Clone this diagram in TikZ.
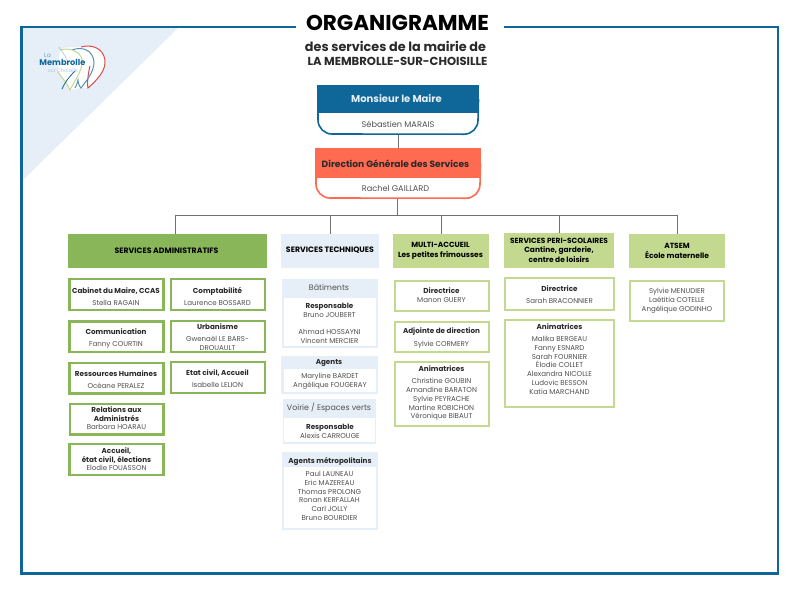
\documentclass[tikz,border=0pt]{standalone}
\usepackage{fontspec}
\setmainfont{Poppins}
\definecolor{bleu}{HTML}{0F6698}
\definecolor{pale}{HTML}{E6EFF7}
\definecolor{corail}{HTML}{FF6B50}
\definecolor{vertf}{HTML}{8AB65A}
\definecolor{vertc}{HTML}{C3D98F}
\definecolor{encre}{HTML}{2A2A2A}
\definecolor{gris}{HTML}{505050}
\definecolor{trait}{HTML}{707070}
\tikzset{
  x=1pt,y=-1pt,
  gbox/.style={draw=vertf,line width=2.4pt,fill=white,inner sep=0pt},
  cbox/.style={draw=vertc,line width=2.4pt,fill=white,inner sep=0pt},
  ibox/.style={fill=white,draw=none,inner sep=0pt},
  pbox/.style={fill=pale,draw=none,inner sep=0pt},
  hdg/.style={fill=vertf,draw=none,inner sep=0pt},
  hdc/.style={fill=vertc,draw=none,inner sep=0pt},
  hdp/.style={fill=pale,draw=none,inner sep=0pt},
  txt/.style={align=center,inner sep=0pt,text=gris,font=\fontsize{7.05}{8.8}\selectfont},
  hd/.style={align=center,inner sep=0pt,text=black,font=\fontsize{7.8}{10}\selectfont\bfseries},
  link/.style={draw=trait,line width=1pt},
}
\newcommand{\bt}[1]{{\fontsize{7.2}{8.8}\selectfont\bfseries\color{encre}#1}}
% \rbox[style]{name}{x1}{y1}{x2}{y2}
\newcommand{\rbox}[6][gbox]{\node[#1,minimum width={#5-#3},minimum height={#6-#4}] (#2) at ({(#3+#5)/2},{(#4+#6)/2}) {};}
% \tnode{name}{x}{y}{text}
\newcommand{\tnode}[4]{\node[txt] (#1) at (#2,#3) {#4};}
\newcommand{\hnode}[4]{\node[hd] (#1) at (#2,#3) {#4};}
\begin{document}
\begin{tikzpicture}
\useasboundingbox (0,0) rectangle (800,600);
\fill[white] (0,0) rectangle (800,600);
% corner and frame
\fill[pale] (22,27) -- (179,27) -- (22,181) -- cycle;
\draw[bleu,line width=2.8pt] (296,27) -- (21.5,27) -- (21.5,573.5) -- (778,573.5) -- (778,27) -- (504,27);
% logo
\fill[white] (60,49) .. controls (70,46) and (75,48) .. (82,47) .. controls (92,44) and (103,48) .. (105,60) .. controls (106,71) and (97,80) .. (88,88) -- (80,88) -- (70,90) .. controls (68,84) and (62,78) .. (58,72) -- cycle;
\begin{scope}[line width=1pt]
\draw[red!65!white!85!black] (81,47) .. controls (92,44) and (103,48) .. (105,60) .. controls (106,71) and (97,80) .. (88,88) .. controls (87,84) and (88,74) .. (90,66);
\draw[bleu!70!white] (72,50) .. controls (82,46) and (93,50) .. (94,62) .. controls (94,72) and (87,80) .. (81,88) .. controls (79,86) and (78,82) .. (78,80) .. controls (77,84) and (76,87) .. (75,88);
\draw[vertc] (60,50) .. controls (70,47) and (81,52) .. (82,60) .. controls (83,70) and (75,80) .. (70,90) .. controls (68,84) and (62,78) .. (58,72);
\draw[bleu,line width=.8pt] (62,89) .. controls (65,82) and (69,77) .. (75,71);
\draw[bleu!50!white,line width=.4pt] (59,47) .. controls (62,52) and (65,55) .. (67,60);
\end{scope}
\node[inner sep=0pt,text=bleu,font=\fontsize{8.3}{8}\selectfont\bfseries] (logotitre) at (62.5,62.5) {Membrolle};
\node[inner sep=0pt,text=bleu!60!white,font=\fontsize{6}{6}\selectfont] (logola) at (47.5,55.5) {La};
\node[inner sep=0pt,text=bleu!35!white,font=\fontsize{5}{5}\selectfont] (logosur) at (63,71) {sur Choisille};
% title
\node[inner sep=0pt,text=black,font=\fontsize{21.5}{22}\selectfont\bfseries] (titre) at (397.5,22.5) {ORGANIGRAMME};
\node[inner sep=0pt,text=encre,font=\fontsize{12.8}{14}\selectfont\bfseries] (st1) at (395.5,46) {des services de la mairie de};
\node[inner sep=0pt,text=encre,font=\fontsize{11.6}{14}\selectfont\bfseries] (st2) at (397.5,61) {LA MEMBROLLE-SUR-CHOISILLE};
% maire
\draw[bleu,line width=1.6pt,fill=white] (318,100) -- (318,120) arc[start angle=180,end angle=90,radius=14] -- (464,134.2) arc[start angle=90,end angle=0,radius=14] -- (478.5,100) -- cycle;
\node[fill=bleu,inner sep=0pt,minimum width=162,minimum height=28] (maire) at (398,99) {};
\node[inner sep=0pt,text=pale,font=\fontsize{10}{12}\selectfont\bfseries] (mairet) at (396.5,99) {Monsieur le Maire};
\node[txt,font=\fontsize{8.2}{10}\selectfont] (mairen) at (398,124) {Sébastien MARAIS};
\coordinate (maireb) at (398,135);
% dgs
\draw[corail,line width=1.6pt,fill=white] (316,165) -- (316,184) arc[start angle=180,end angle=90,radius=14] -- (466,198.2) arc[start angle=90,end angle=0,radius=14] -- (480.5,165) -- cycle;
\node[fill=corail,inner sep=0pt,minimum width=166,minimum height=30] (dgs) at (398,163) {};
\node[inner sep=0pt,text=encre,font=\fontsize{9.1}{11}\selectfont\bfseries] (dgst) at (395.5,164) {Direction Générale des Services};
\node[txt,font=\fontsize{8.2}{10}\selectfont] (dgsn) at (395.5,188.5) {Rachel GAILLARD};
\coordinate (dgsb) at (397.5,199);
\coordinate (hub) at (397.5,215.5);
% service headers
\rbox[hdg]{sadm}{68}{234}{267}{268}
\hnode{sadmt}{166.5}{250.5}{SERVICES ADMINISTRATIFS}
\rbox[hdp]{stec}{281}{234}{379}{268}
\hnode{stect}{330}{250.5}{SERVICES TECHNIQUES}
\rbox[hdc]{smul}{393}{234}{489}{268}
\node[hd,font=\fontsize{7.45}{10}\selectfont\bfseries] (smult) at (440.5,251) {MULTI-ACCUEIL\\Les petites frimousses};
\rbox[hdc]{sper}{504}{233}{614}{268}
\node[hd,font=\fontsize{7.45}{9.5}\selectfont\bfseries] (spert) at (559,250) {SERVICES PERI-SCOLAIRES\\Cantine, garderie,\\centre de loisirs};
\rbox[hdc]{sats}{629}{234}{725}{268}
\node[hd,font=\fontsize{7.45}{10}\selectfont\bfseries] (satst) at (677,251) {ATSEM\\École maternelle};
% connectors
\coordinate (sadmtop) at (175,234);
\draw[link] (maireb) -- (dgs.north);
\draw[link] (dgsb) -- (hub);
\draw[link] (sadmtop) -- (sadmtop |- hub) -- (sats.north |- hub) -- (sats.north);
\draw[link] (stec.north) -- (stec.north |- hub);
\draw[link] (smul.north) -- (smul.north |- hub);
\draw[link] (sper.north) -- (sper.north |- hub);
% admin
\rbox{cab}{69.5}{279.2}{163.5}{310}
\tnode{cabt}{116}{296.8}{\bt{Cabinet du Maire, CCAS}\\[3pt]Stella RAGAIN}
\rbox{com}{171}{279.2}{265}{310}
\tnode{comt}{217.5}{296.3}{\bt{Comptabilité}\\[3pt]Laurence BOSSARD}
\rbox{cmn}{69.5}{321.5}{163.5}{352}
\tnode{cmnt}{116}{338.8}{\bt{Communication}\\[3pt]Fanny COURTIN}
\rbox{urb}{171}{321}{265}{352}
\tnode{urbt}{217.5}{337}{\bt{Urbanisme}\\[3pt]Gwenaël LE BARS-\\DROUAULT}
\rbox{rhu}{69.5}{363}{163.5}{393.5}
\tnode{rhut}{116}{379.5}{\bt{Ressources Humaines}\\[3pt]Océane PERALEZ}
\rbox{eta}{171}{362}{265}{393}
\tnode{etat}{217.5}{378.4}{\bt{Etat civil, Accueil}\\[3pt]Isabelle LELION}
\rbox{rel}{70}{404}{163.5}{434.5}
\tnode{relt}{116.5}{418.3}{\bt{Relations aux}\\\bt{Administrés}\\Barbara HOARAU}
\rbox{acc}{69.5}{444}{163.5}{475}
\tnode{acct}{116.5}{459.3}{\bt{Accueil,}\\\bt{état civil, élections}\\Elodie FOUASSON}
% technique
\rbox[pbox]{bat}{282}{279}{378}{348}
\rbox[ibox]{bati}{284}{298}{376}{346}
\node[txt,font=\fontsize{7.9}{10}\selectfont] (batt) at (329,288) {Bâtiments};
\tnode{batn}{329.5}{323.4}{\bt{Responsable}\\Bruno JOUBERT\\[8.4pt]Ahmad HOSSAYNI\\Vincent MERCIER}
\rbox[pbox]{age}{281}{356}{378}{394}
\rbox[ibox]{agei}{283.5}{369}{376}{392}
\tnode{aget}{329}{362.5}{\bt{Agents}}
\tnode{agen}{330}{381}{Maryline BARDET\\Angélique FOUGERAY}
\rbox[pbox]{voi}{283}{399}{376}{444}
\rbox[ibox]{voii}{284}{418}{375}{442}
\node[txt,font=\fontsize{7.9}{10}\selectfont] (voit) at (329,407.5) {Voirie / Espaces verts};
\tnode{voin}{330}{431}{\bt{Responsable}\\Alexis CARROUGE}
\rbox[pbox]{met}{282}{452}{378}{530}
\rbox[ibox]{meti}{284}{467}{376}{528}
\tnode{mett}{330}{461}{\bt{Agents métropolitains}}
\tnode{metn}{329.5}{496}{Paul LAUNEAU\\Eric MAZEREAU\\Thomas PROLONG\\Ronan KERFALLAH\\Carl JOLLY\\Bruno BOURDIER}
% multi-accueil
\rbox[cbox]{dir}{395}{281}{489}{311}
\tnode{dirt}{441.5}{295}{\bt{Directrice}\\Manon GUERY}
\rbox[cbox]{adj}{395}{322}{489}{352}
\tnode{adjt}{441.5}{338.3}{\bt{Adjointe de direction}\\[4pt]Sylvie CORMERY}
\rbox[cbox]{ani}{395}{362}{489}{426}
\tnode{anit}{441.5}{393.2}{\bt{Animatrices}\\[3.4pt]Christine GOUBIN\\Amandine BARATON\\Sylvie PEYRACHE\\Martine ROBICHON\\Véronique BIBAUT}
% peri
\rbox[cbox]{pdi}{505}{278}{614}{310}
\tnode{pdit}{559.5}{294.8}{\bt{Directrice}\\[3pt]Sarah BRACONNIER}
\rbox[cbox]{pan}{505}{320}{614}{407}
\tnode{pant}{559.5}{359}{\bt{Animatrices}\\[3.4pt]Malika BERGEAU\\Fanny ESNARD\\Sarah FOURNIER\\Élodie COLLET\\Alexandra NICOLLE\\Ludovic BESSON\\Katia MARCHAND}
% atsem
\rbox[cbox]{ats}{630}{281}{724}{321}
\tnode{atst}{677}{301}{Sylvie MENUDIER\\Laétitia COTELLE\\Angélique GODINHO}
\end{tikzpicture}
\end{document}
